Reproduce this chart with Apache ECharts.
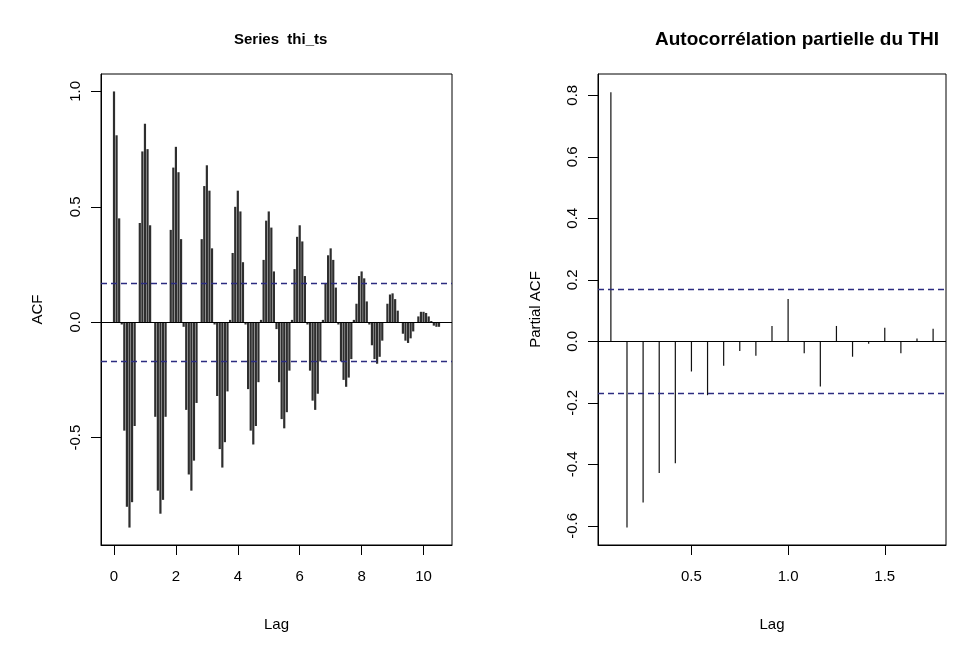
<!DOCTYPE html>
<html>
<head>
<meta charset="utf-8">
<script src="https://cdn.jsdelivr.net/npm/echarts@6/dist/echarts.min.js"></script>
<style>
html, body { margin: 0; padding: 0; background: #fff; }
#chart { width: 957px; height: 646px; }
</style>
</head>
<body>
<div id="chart"></div>
<script>
// monthly series, lags in years
const freq = 12;
const ciLimit = 0.173;

// ACF, lags 0..126
const acfValues = [
  1.0, 0.81, 0.45, -0.01, -0.47, -0.80, -0.89, -0.78, -0.45, 0.0, 0.43, 0.74,
  0.86, 0.75, 0.42, 0.0, -0.41, -0.73, -0.83, -0.77, -0.41, 0.0, 0.40, 0.67,
  0.76, 0.65, 0.36, -0.02, -0.38, -0.66, -0.73, -0.60, -0.35, 0.0, 0.36, 0.59,
  0.68, 0.57, 0.32, -0.01, -0.32, -0.55, -0.63, -0.52, -0.30, 0.01, 0.30, 0.50,
  0.57, 0.48, 0.26, -0.01, -0.29, -0.47, -0.53, -0.45, -0.26, 0.01, 0.27, 0.44,
  0.48, 0.41, 0.22, -0.03, -0.26, -0.42, -0.46, -0.39, -0.21, 0.01, 0.23, 0.37,
  0.42, 0.35, 0.20, -0.01, -0.21, -0.34, -0.38, -0.31, -0.17, 0.01, 0.17, 0.29,
  0.32, 0.27, 0.15, -0.01, -0.17, -0.25, -0.28, -0.24, -0.16, 0.01, 0.08, 0.20,
  0.22, 0.19, 0.09, -0.01, -0.10, -0.16, -0.18, -0.15, -0.08, 0.0, 0.08, 0.12,
  0.125, 0.10, 0.05, 0.0, -0.05, -0.08, -0.09, -0.07, -0.04, 0.0, 0.025, 0.045,
  0.045, 0.04, 0.025, 0.005, -0.015, -0.02, -0.02
];

// PACF, lags 1..21
const pacfValues = [
  0.81, -0.605, -0.524, -0.428, -0.396, -0.098, -0.175, -0.079, -0.031, -0.047,
  0.05, 0.138, -0.039, -0.147, 0.05, -0.05, -0.008, 0.044, -0.039, 0.009, 0.041
];

const acfXTicks = [0, 2, 4, 6, 8, 10];
const acfYTicks = [-0.5, 0, 0.5, 1.0];
const pacfXTicks = [0.5, 1.0, 1.5];
const pacfYTicks = [-0.6, -0.4, -0.2, 0, 0.2, 0.4, 0.6, 0.8];

const acfData = acfValues.map((v, i) => [i / freq, v]);
const pacfData = pacfValues.map((v, i) => [(i + 1) / freq, v]);

const font = "Liberation Sans, Arial, sans-serif";
const ciColor = "#2c2c80";

function xAxisFor(gridIndex, ticks, min, max, fmt) {
  return {
    type: "value",
    gridIndex,
    min,
    max,
    name: "Lag",
    nameLocation: "middle",
    nameGap: 72,
    nameTextStyle: { color: "#000", fontSize: 15, fontFamily: font },
    axisLine: { show: true, onZero: false, lineStyle: { color: "#000", width: 1 } },
    axisTick: { show: true, inside: false, length: 10, customValues: ticks, lineStyle: { color: "#000" } },
    axisLabel: { customValues: ticks, color: "#000", fontSize: 15, fontFamily: font, margin: 24, formatter: fmt },
    splitLine: { show: false },
  };
}

function yAxisFor(gridIndex, ticks, min, max, name, nameGap) {
  return {
    type: "value",
    gridIndex,
    min,
    max,
    name,
    nameLocation: "middle",
    nameGap,
    nameTextStyle: { color: "#000", fontSize: 15, fontFamily: font },
    axisLine: { show: true, onZero: false, lineStyle: { color: "#000", width: 1 } },
    axisTick: { show: true, inside: false, length: 10, customValues: ticks, lineStyle: { color: "#000" } },
    axisLabel: {
      customValues: ticks,
      rotate: 90,
      color: "#000",
      fontSize: 15,
      fontFamily: font,
      margin: 18,
      formatter: (v) => v.toFixed(1),
    },
    splitLine: { show: false },
  };
}

function refLines() {
  return {
    silent: true,
    symbol: "none",
    label: { show: false },
    data: [
      { yAxis: 0, lineStyle: { color: "#000", width: 1, type: "solid" } },
      { yAxis: ciLimit, lineStyle: { color: ciColor, width: 1.4, type: [6, 4] } },
      { yAxis: -ciLimit, lineStyle: { color: ciColor, width: 1.4, type: [6, 4] } },
    ],
  };
}

const chart = echarts.init(document.getElementById("chart"));
chart.setOption({
  animation: false,
  backgroundColor: "#fff",
  title: [
    {
      text: "Series  thi_ts",
      left: 229,
      top: 27,
      textStyle: { fontSize: 15, fontWeight: "bold", fontFamily: font, color: "#000" },
    },
    {
      text: "Autocorrélation partielle du THI",
      left: 650,
      top: 25,
      textStyle: { fontSize: 19, fontWeight: "bold", fontFamily: font, color: "#000" },
    },
  ],
  grid: [
    { left: 101, right: 505, top: 74, bottom: 101, show: true, borderColor: "#000", borderWidth: 1 },
    { left: 598, right: 11, top: 74, bottom: 101, show: true, borderColor: "#000", borderWidth: 1 },
  ],
  xAxis: [
    xAxisFor(0, acfXTicks, -0.42, 10.92, (v) => String(v)),
    xAxisFor(1, pacfXTicks, 0.0167, 1.8167, (v) => v.toFixed(1)),
  ],
  yAxis: [
    yAxisFor(0, acfYTicks, -0.9656, 1.0756, "ACF", 56),
    yAxisFor(1, pacfYTicks, -0.662, 0.869, "Partial ACF", 55),
  ],
  series: [
    {
      type: "bar",
      xAxisIndex: 0,
      yAxisIndex: 0,
      data: acfData,
      barWidth: 2.2,
      itemStyle: { color: "#2e2e2e" },
      markLine: refLines(),
    },
    {
      type: "bar",
      xAxisIndex: 1,
      yAxisIndex: 1,
      data: pacfData,
      barWidth: 1.2,
      itemStyle: { color: "#111" },
      markLine: refLines(),
    },
  ],
});
</script>
</body>
</html>
